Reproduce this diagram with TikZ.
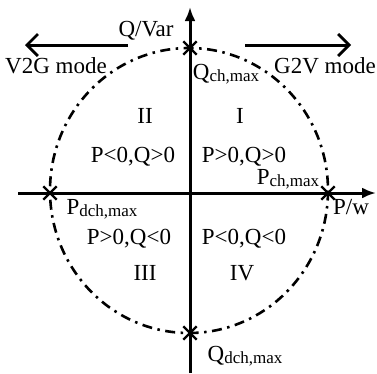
\documentclass[tikz,border=0pt]{standalone}
\usepackage{fontspec}
\setmainfont{Liberation Serif}
\usetikzlibrary{arrows.meta, shapes.misc}

\newcommand{\sbs}[1]{\raisebox{-2pt}{\fontsize{17}{17}\selectfont #1}}

\begin{document}
\begin{tikzpicture}[
  x=1pt, y=-1pt,
  lbl/.style={inner sep=0pt, anchor=base, font=\fontsize{23}{25}\selectfont},
  axis/.style={-{Latex[length=14pt, width=11pt]}, line width=3pt},
  mode/.style={-{Straight Barb[length=11pt, width=22pt, line width=2.8pt]}, line width=3pt},
  circ/.style={line width=2.6pt, dash pattern=on 10pt off 5.5pt on 2.5pt off 5.5pt},
  xmark/.style={draw, cross out, line width=2.4pt, minimum size=11pt, inner sep=0pt}
]
\useasboundingbox (0,0) rectangle (377,373);

% --- axes ---
\coordinate (xl) at (18,193);
\coordinate (xr) at (376,193);
\coordinate (yb) at (190,373);
\coordinate (yt) at (190,7);
\draw[axis] (xl) -- (xr);
\draw[axis] (yb) -- (yt);

% --- capability circle ---
\draw[circ] (189,190.5) ellipse [x radius=139, y radius=142.5];

% --- limit points ---
\node[xmark] (qch)  at (190,48)  {};
\node[xmark] (qdch) at (190,333) {};
\node[xmark] (pch)  at (328,193) {};
\node[xmark] (pdch) at (50,193)  {};

% --- mode arrows ---
\coordinate (v2gs) at (128,45);
\coordinate (v2ge) at (25,45);
\coordinate (g2vs) at (245,45);
\coordinate (g2ve) at (351,45);
\draw[mode] (v2gs) -- (v2ge);
\draw[mode] (g2vs) -- (g2ve);

% --- texts (placed on baselines) ---
\node[lbl] (qaxis) at (146,36)  {Q/Var};
\node[lbl] (paxis) at (351,214) {P/w};
\node[lbl] (v2g)   at (56,73)   {V2G mode};
\node[lbl] (g2v)   at (325,73)  {G2V mode};
\node[lbl] (qchl)  at (226,79)  {Q\sbs{ch,max}};
\node[lbl] (qdchl) at (245,361) {Q\sbs{dch,max}};
\node[lbl] (pchl)  at (288,184) {P\sbs{ch,max}};
\node[lbl] (pdchl) at (102,214) {P\sbs{dch,max}};

% --- quadrants ---
\node[lbl] (q2)  at (145,123) {II};
\node[lbl] (q1)  at (240,123) {I};
\node[lbl] (q3)  at (145,280) {III};
\node[lbl] (q4)  at (242,280) {IV};
\node[lbl] (c2)  at (133,162) {P<0,Q>0};
\node[lbl] (c1)  at (244,162) {P>0,Q>0};
\node[lbl] (c3)  at (129,244) {P>0,Q<0};
\node[lbl] (c4)  at (244,244) {P<0,Q<0};

\end{tikzpicture}
\end{document}
